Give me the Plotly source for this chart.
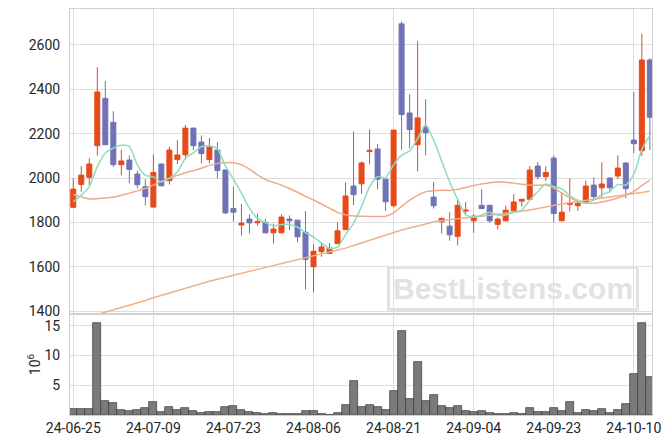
import plotly.graph_objects as go

dates = ["24-06-25","24-06-26","24-06-27","24-06-28","24-07-01","24-07-02","24-07-03","24-07-04","24-07-05","24-07-08",
         "24-07-09","24-07-10","24-07-11","24-07-12","24-07-15","24-07-16","24-07-17","24-07-18","24-07-19","24-07-22",
         "24-07-23","24-07-24","24-07-25","24-07-26","24-07-29","24-07-30","24-07-31","24-08-01","24-08-02","24-08-05",
         "24-08-06","24-08-07","24-08-08","24-08-09","24-08-12","24-08-13","24-08-14","24-08-16","24-08-19","24-08-20",
         "24-08-21","24-08-22","24-08-23","24-08-26","24-08-27","24-08-28","24-08-29","24-08-30","24-09-02","24-09-03",
         "24-09-04","24-09-05","24-09-06","24-09-09","24-09-10","24-09-11","24-09-12","24-09-13","24-09-19","24-09-20",
         "24-09-23","24-09-24","24-09-25","24-09-26","24-09-27","24-09-30","24-10-02","24-10-04","24-10-07","24-10-08",
         "24-10-10","24-10-11","24-10-14"]

open_ = [1868,1971,2003,2146,2359,2251,2060,2081,2018,1961,
         1869,2063,1988,2083,2105,2225,2162,2083,2126,2036,
         1863,1788,1815,1798,1800,1753,1753,1815,1810,1756,
         1600,1668,1660,1704,1767,1964,1974,2119,2131,1995,
         1875,2695,2293,2150,2230,1914,1803,1783,1737,1851,
         1807,1877,1877,1791,1807,1852,1896,1904,2054,2006,
         2090,1807,1881,1875,1889,1968,1956,2000,2009,2068,
         2171,2123,2532]
high = [1998,2054,2089,2499,2438,2301,2129,2102,2033,1994,
        2107,2066,2141,2171,2239,2228,2192,2180,2162,2040,
        1961,1883,1836,1840,1815,1795,1836,1831,1812,1851,
        1701,1710,1707,1800,1980,2210,2074,2219,2152,1997,
        2216,2707,2377,2617,2355,1983,1822,1846,1904,1892,
        1837,1949,1877,1822,1875,1926,1904,2054,2071,2053,
        2102,1937,1998,1904,1989,2003,2071,2004,2102,2071,
        2388,2650,2540]
low = [1865,1938,1968,2101,2150,2051,2012,1976,1953,1877,
       1867,1963,1971,2063,2084,2125,2066,2066,1998,1837,
       1803,1741,1750,1785,1749,1705,1750,1765,1710,1498,
       1484,1645,1657,1704,1767,1877,1929,2062,1949,1852,
       1868,2126,2134,2030,2102,1862,1750,1717,1696,1839,
       1753,1862,1798,1768,1805,1843,1871,1904,1994,1986,
       1801,1807,1849,1852,1889,1904,1911,1935,1995,1908,
       2113,2099,2126]
close = [1950,2013,2063,2388,2150,2060,2077,2039,1970,1916,
         2025,1965,2126,2104,2225,2146,2110,2140,2034,1843,
         1846,1797,1798,1803,1753,1770,1824,1807,1735,1633,
         1670,1689,1684,1762,1919,1925,2068,2125,1995,1893,
         2216,2286,2218,2271,2204,1875,1818,1744,1877,1855,
         1828,1862,1807,1815,1855,1892,1904,2036,2006,2025,
         1840,1846,1887,1886,1964,1916,1973,1956,2045,1952,
         2155,2532,2274]

ma5 = [1893,1923,1961,2051,2113,2135,2148,2143,2059,2012,
       2005,1983,2000,2027,2089,2113,2142,2145,2131,2055,
       1995,1932,1864,1817,1799,1784,1790,1791,1778,1754,
       1734,1707,1682,1688,1745,1796,1872,1960,2006,2001,
       2059,2103,2122,2177,2239,2171,2077,1982,1904,1834,
       1824,1833,1846,1833,1833,1846,1855,1900,1939,1973,
       1962,1951,1921,1897,1885,1900,1925,1939,1971,1968,
       2016,2128,2192]
ma20 = [1926,1915,1905,1907,1910,1913,1922,1932,1942,1953,
        1968,1985,1999,2012,2024,2033,2044,2057,2066,2069,
        2069,2060,2040,2014,1993,1980,1968,1953,1936,1918,
        1901,1883,1864,1845,1834,1829,1828,1827,1827,1828,
        1843,1872,1900,1922,1938,1943,1945,1944,1948,1957,
        1966,1973,1979,1982,1981,1977,1972,1968,1967,1968,
        1955,1932,1912,1895,1887,1886,1892,1900,1910,1922,
        1940,1966,1991]
ma60 = [1354,1365,1375,1386,1396,1406,1416,1426,1437,1448,
        1460,1471,1482,1493,1504,1515,1526,1535,1544,1553,
        1562,1571,1580,1589,1598,1607,1616,1625,1634,1642,
        1650,1658,1666,1674,1684,1696,1708,1720,1731,1742,
        1755,1766,1775,1783,1793,1803,1809,1813,1816,1819,
        1823,1828,1832,1836,1840,1845,1850,1856,1863,1871,
        1877,1883,1888,1893,1899,1904,1910,1916,1921,1926,
        1931,1936,1940]

volume_m = [1.0,1.0,1.0,15.45,2.35,2.0,0.9,0.73,0.84,1.18,
            2.18,0.5,1.34,0.9,1.18,0.67,0.34,0.5,0.5,1.34,
            1.5,0.9,0.5,0.34,0.17,0.34,0.17,0.17,0.17,0.67,
            0.67,0.17,0.05,0.34,1.68,5.7,1.34,1.68,1.34,0.9,
            4.08,14.1,2.69,8.9,2.35,3.36,1.5,1.18,1.5,0.67,
            0.5,0.67,0.34,0.17,0.17,0.34,0.17,1.18,0.5,0.5,
            1.18,0.67,2.18,0.34,0.84,0.67,1.0,0.34,0.84,1.85,
            6.9,15.45,6.4]

tick_dates = dates[::10]
price_ticks = [1400, 1600, 1800, 2000, 2200, 2400, 2600]
vol_ticks = [5, 10, 15]

UP = "#E64A19"
DOWN = "#6F72B6"
GRID = "#DEDEDE"
BORDER = "#D0D0D0"
FONT = dict(family="Roboto, sans-serif", size=14, color="#262626")

fig = go.Figure()
fig.add_trace(go.Scatter(x=dates, y=ma60, mode="lines", line=dict(color="#F0B187", width=1.5),
                         xaxis="x", yaxis="y", showlegend=False, hoverinfo="skip"))
fig.add_trace(go.Scatter(x=dates, y=ma20, mode="lines", line=dict(color="#F0A98C", width=1.5, shape="spline", smoothing=0.6),
                         xaxis="x", yaxis="y", showlegend=False, hoverinfo="skip"))
fig.add_trace(go.Scatter(x=dates, y=ma5, mode="lines", line=dict(color="#8FDCC0", width=1.5, shape="spline", smoothing=0.6),
                         xaxis="x", yaxis="y", showlegend=False, hoverinfo="skip"))
fig.add_trace(go.Candlestick(x=dates, open=open_, high=high, low=low, close=close,
                             increasing=dict(line=dict(color=UP, width=1), fillcolor=UP),
                             decreasing=dict(line=dict(color=DOWN, width=1), fillcolor=DOWN),
                             whiskerwidth=0, xaxis="x", yaxis="y", showlegend=False))
fig.add_trace(go.Bar(x=dates, y=volume_m, marker=dict(color="#7A7A7A", line=dict(color="#3A3A3A", width=0.7)),
                     xaxis="x2", yaxis="y2", showlegend=False))

xr = [-0.41, 72.27]
split = 0.2488
fig.update_layout(
    width=663, height=436,
    margin=dict(l=62, r=19, t=1, b=29),
    paper_bgcolor="white", plot_bgcolor="white",
    font=FONT,
    boxgap=0.2, boxgroupgap=0.22,
    bargap=0,
    xaxis=dict(domain=[0, 1], anchor="y", type="category", range=xr,
               tickvals=tick_dates, showticklabels=False, showgrid=True, gridcolor=GRID,
               rangeslider=dict(visible=False), showline=True, mirror=True, linecolor=BORDER,
               zeroline=False, ticks=""),
    yaxis=dict(domain=[split, 1], anchor="x", range=[1387, 2762], tickvals=price_ticks,
               showgrid=True, gridcolor=GRID, showline=True, mirror=True, linecolor=BORDER,
               zeroline=False, ticks="", ticklabelstandoff=6),
    xaxis2=dict(domain=[0, 1], anchor="y2", type="category", range=xr, matches="x",
                tickvals=tick_dates, ticktext=tick_dates, showgrid=True, gridcolor=GRID,
                showline=True, mirror=True, linecolor=BORDER, zeroline=False, ticks=""),
    yaxis2=dict(domain=[0, split], anchor="x2", range=[0, 17.0], tickvals=vol_ticks,
                showgrid=True, gridcolor=GRID, showline=True, mirror=True, linecolor=BORDER,
                zeroline=False, ticks="", ticklabelstandoff=6,
                title=dict(text="10<sup>6</sup>", standoff=0, font=dict(size=14))),
)

fig.add_annotation(x=0.761, y=0.085, xref="x domain", yref="y domain",
                   xanchor="center", yanchor="middle",
                   text="<b>BestListens.com</b>", showarrow=False,
                   font=dict(family="Liberation Sans, Arial, sans-serif", size=30, color="#E2E2E2"),
                   bordercolor="#E2E2E2", borderwidth=3, borderpad=3)

fig.write_html("out.html")
